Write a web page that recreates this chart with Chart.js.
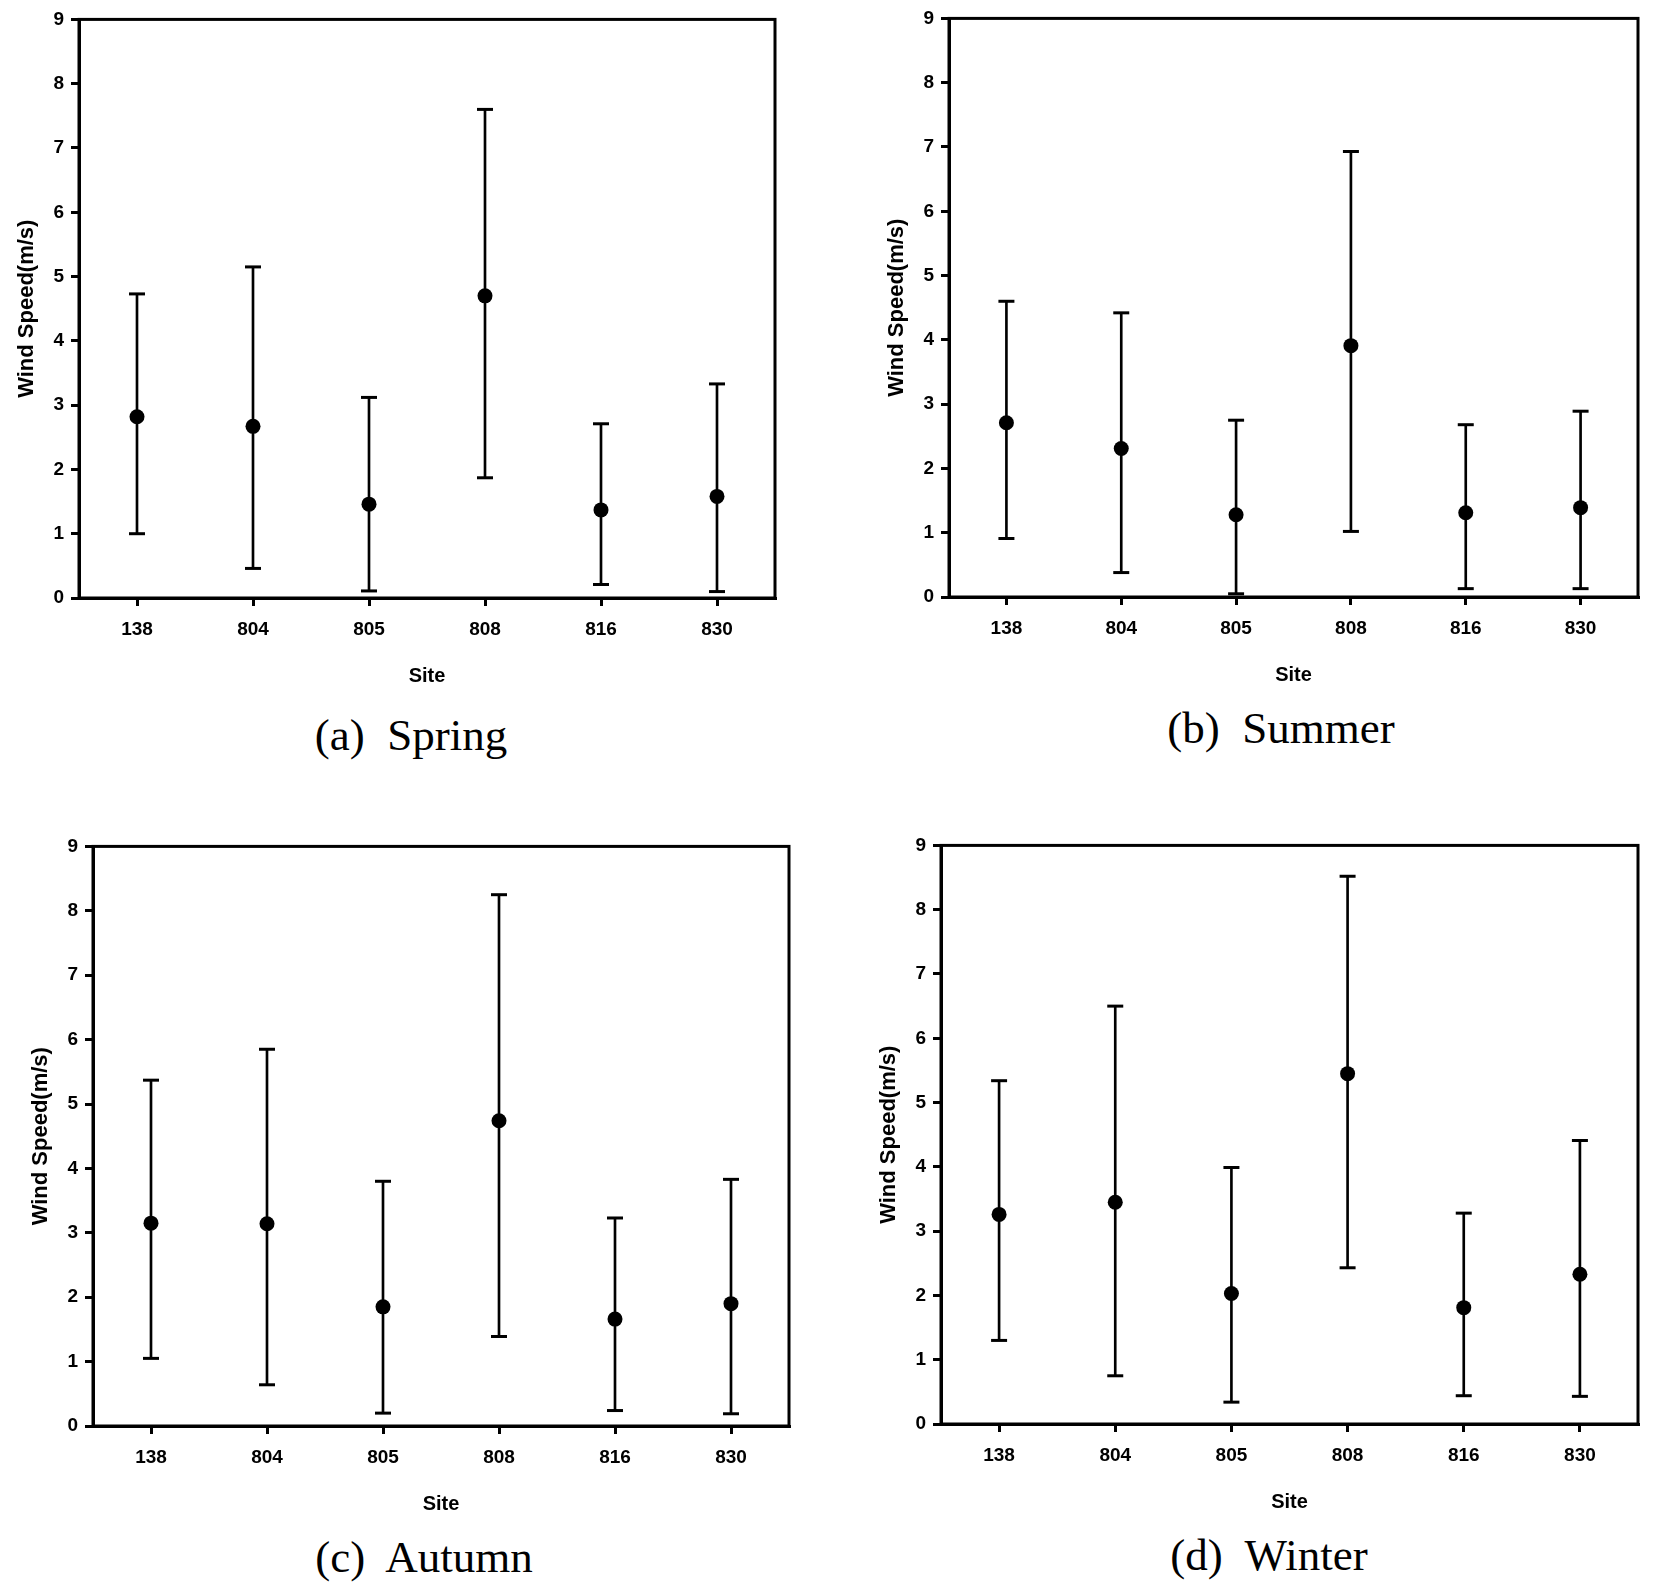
<!DOCTYPE html>
<html>
<head>
<meta charset="utf-8">
<script src="https://cdn.jsdelivr.net/npm/chart.js@4/dist/chart.umd.min.js"></script>
<style>
  html, body { margin: 0; padding: 0; background: #fff; }
  body { width: 1653px; height: 1586px; position: relative; overflow: hidden; }
  .panel { position: absolute; }
  .cap { position: absolute; width: 600px; text-align: center; white-space: pre;
         font-family: "Liberation Serif", "Times New Roman", serif; font-size: 45px;
         line-height: 50px; color: #000; }
</style>
</head>
<body>
<div class="panel" id="pa"><canvas id="ca"></canvas></div>
<div class="panel" id="pb"><canvas id="cb"></canvas></div>
<div class="panel" id="pc"><canvas id="cc"></canvas></div>
<div class="panel" id="pd"><canvas id="cd"></canvas></div>
<div class="cap" id="ta">(a)  Spring</div>
<div class="cap" id="tb">(b)  Summer</div>
<div class="cap" id="tc">(c)  Autumn</div>
<div class="cap" id="td">(d)  Winter</div>
<script>
// ---- data ----
const sites = ['138', '804', '805', '808', '816', '830'];
const yTicks = [0, 1, 2, 3, 4, 5, 6, 7, 8, 9];

const springMean = [2.82, 2.67, 1.46, 4.70, 1.37, 1.58];
const springLow  = [1.00, 0.46, 0.11, 1.87, 0.21, 0.10];
const springHigh = [4.73, 5.15, 3.12, 7.60, 2.71, 3.33];

const summerMean = [2.71, 2.31, 1.28, 3.91, 1.31, 1.39];
const summerLow  = [0.91, 0.38, 0.05, 1.02, 0.13, 0.13];
const summerHigh = [4.60, 4.42, 2.75, 6.93, 2.68, 2.89];

const autumnMean = [3.15, 3.14, 1.85, 4.74, 1.66, 1.90];
const autumnLow  = [1.05, 0.64, 0.20, 1.39, 0.24, 0.19];
const autumnHigh = [5.37, 5.85, 3.80, 8.25, 3.23, 3.83];

const winterMean = [3.26, 3.45, 2.03, 5.45, 1.81, 2.33];
const winterLow  = [1.30, 0.75, 0.34, 2.43, 0.44, 0.43];
const winterHigh = [5.34, 6.50, 3.99, 8.52, 3.28, 4.41];

const xTitle = 'Site';
const yTitle = 'Wind Speed(m/s)';

// ---- layout (plot boxes: left, top, right, bottom) ----
const AXW = 79, AXH = 100, PADT = 15, PADR = 15;
const panels = [
  { cv: 'ca', div: 'pa', box: [79, 16, 775, 598],   mean: springMean, low: springLow, high: springHigh },
  { cv: 'cb', div: 'pb', box: [949, 15, 1638, 597], mean: summerMean, low: summerLow, high: summerHigh },
  { cv: 'cc', div: 'pc', box: [93, 843, 789, 1426], mean: autumnMean, low: autumnLow, high: autumnHigh },
  { cv: 'cd', div: 'pd', box: [941, 842, 1638, 1424], mean: winterMean, low: winterLow, high: winterHigh }
];
const captions = [
  { id: 'ta', cx: 411, cy: 735 },
  { id: 'tb', cx: 1281, cy: 728 },
  { id: 'tc', cx: 424, cy: 1557 },
  { id: 'td', cx: 1269, cy: 1555 }
];
captions.forEach(c => {
  const el = document.getElementById(c.id);
  el.style.left = (c.cx - 300) + 'px';
  el.style.top = (c.cy - 25) + 'px';
});

const framePlugin = {
  id: 'frame',
  afterDraw(chart) {
    const a = chart.chartArea, ctx = chart.ctx;
    ctx.save();
    ctx.strokeStyle = '#000';
    ctx.lineWidth = 3;
    ctx.strokeRect(a.left, a.top, a.right - a.left, a.bottom - a.top);
    ctx.restore();
  }
};

const tickFont = { family: '"Liberation Sans", Arial, sans-serif', size: 19, weight: 'bold' };

panels.forEach(p => {
  const [l, t, r, b] = p.box;
  const div = document.getElementById(p.div);
  const w = (r - l) + AXW + PADR;
  const h = (b - t) + PADT + AXH;
  div.style.left = (l - AXW) + 'px';
  div.style.top = (t - PADT) + 'px';
  div.style.width = w + 'px';
  div.style.height = h + 'px';

  new Chart(document.getElementById(p.cv), {
    data: {
      labels: sites,
      datasets: [
        {
          type: 'line', data: p.mean, showLine: false, order: 0,
          pointStyle: 'circle', pointRadius: 7.5, pointBackgroundColor: '#000',
          pointBorderColor: '#000', pointBorderWidth: 0, clip: false
        },
        {
          type: 'line', data: p.high, showLine: false, order: 1,
          pointStyle: 'line', pointRadius: 8, pointBorderColor: '#000',
          pointBorderWidth: 3, clip: false
        },
        {
          type: 'line', data: p.low, showLine: false, order: 1,
          pointStyle: 'line', pointRadius: 8, pointBorderColor: '#000',
          pointBorderWidth: 3, clip: false
        },
        {
          type: 'bar', data: p.low.map((v, i) => [v, p.high[i]]), order: 2,
          barThickness: 2, backgroundColor: '#000', borderWidth: 0
        }
      ]
    },
    options: {
      responsive: true,
      maintainAspectRatio: false,
      animation: false,
      events: [],
      layout: { padding: { top: PADT, right: PADR, left: 0, bottom: 0 } },
      plugins: { legend: { display: false }, tooltip: { enabled: false } },
      scales: {
        x: {
          type: 'category',
          offset: true,
          afterFit: s => { s.height = AXH; },
          grid: { display: true, offset: false, drawOnChartArea: false, drawTicks: true,
                  tickLength: 8, color: '#000', lineWidth: 3 },
          border: { display: true, color: '#000', width: 3 },
          ticks: { color: '#000', font: tickFont, padding: 12, maxRotation: 0, autoSkip: false },
          title: { display: true, text: xTitle, color: '#000',
                   font: { family: '"Liberation Sans", Arial, sans-serif', size: 20, weight: 'bold' },
                   padding: { top: 10, bottom: 10 } }
        },
        y: {
          min: yTicks[0], max: yTicks[yTicks.length - 1],
          afterFit: s => { s.width = AXW; },
          afterBuildTicks: s => { s.ticks = yTicks.map(v => ({ value: v })); },
          grid: { display: true, drawOnChartArea: false, drawTicks: true,
                  tickLength: 8, color: '#000', lineWidth: 3 },
          border: { display: true, color: '#000', width: 3 },
          ticks: { color: '#000', font: tickFont, padding: 7 },
          title: { display: true, text: yTitle, color: '#000',
                   font: { family: '"Liberation Sans", Arial, sans-serif', size: 22, weight: 'bold' },
                   padding: { top: 14, bottom: 14 } }
        }
      }
    },
    plugins: [framePlugin]
  });
});
</script>
</body>
</html>
